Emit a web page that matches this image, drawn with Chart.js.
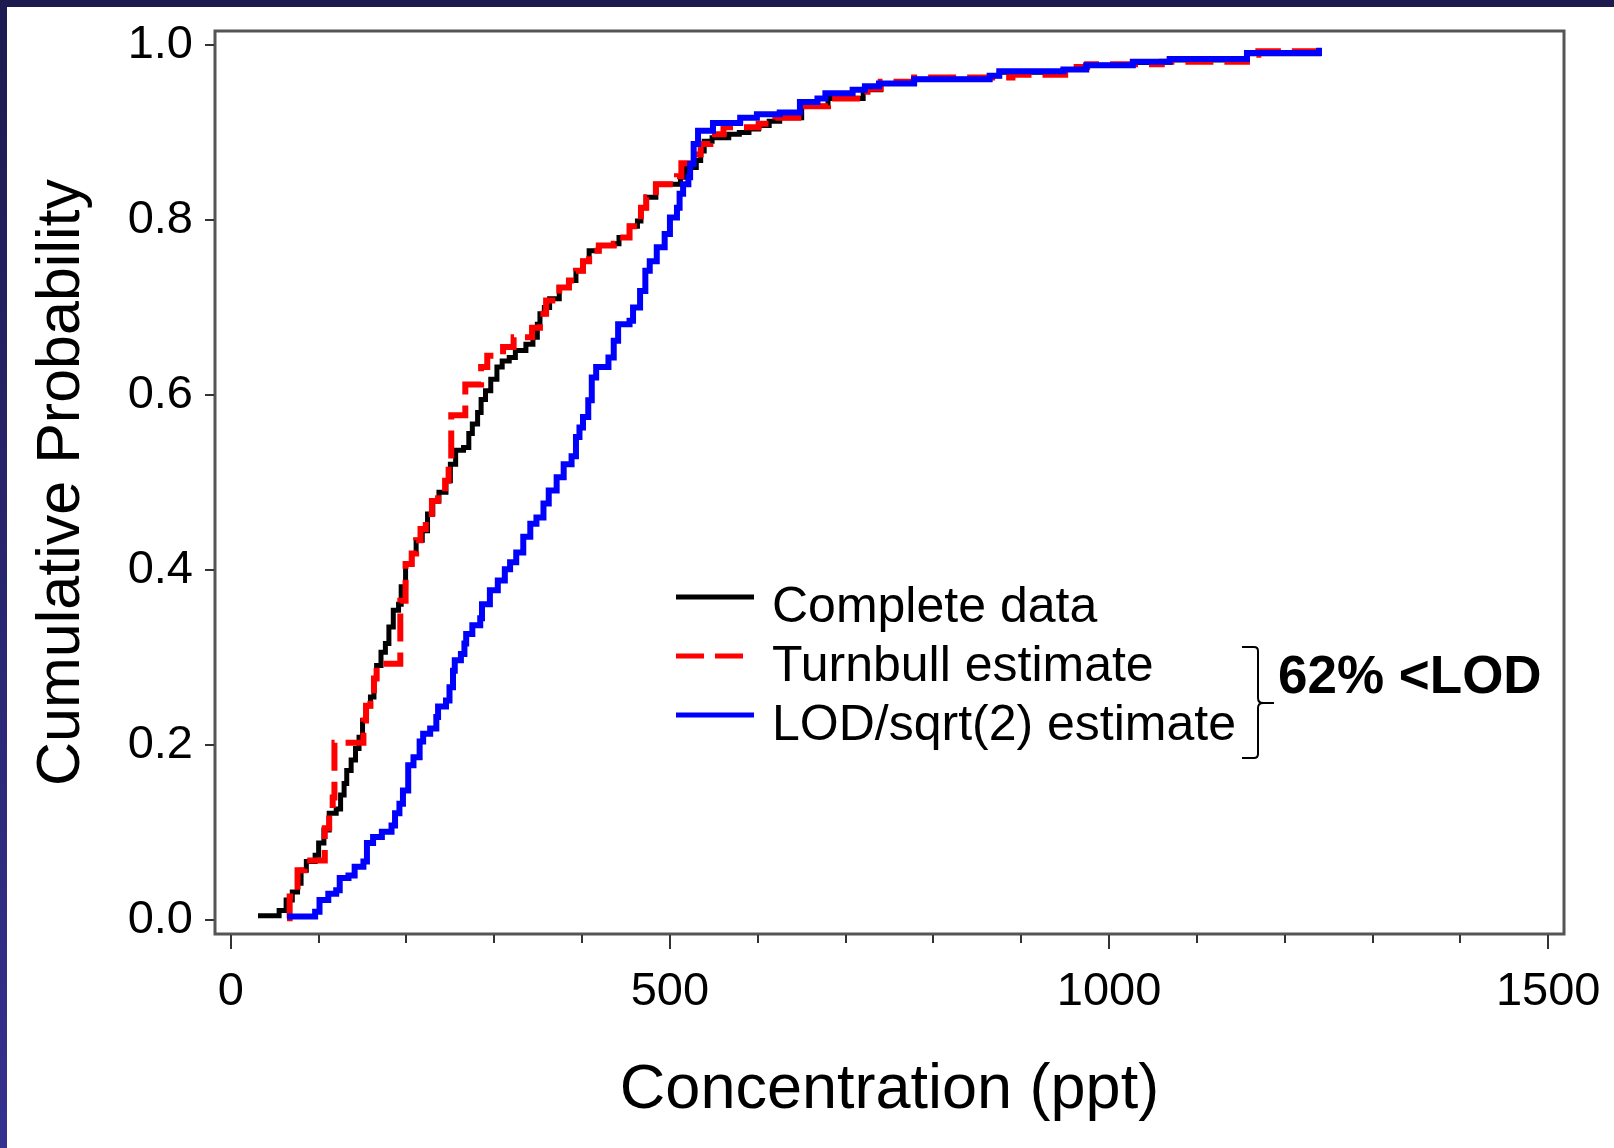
<!DOCTYPE html>
<html>
<head>
<meta charset="utf-8">
<title>Cumulative Probability</title>
<script src="https://cdn.jsdelivr.net/npm/chart.js@4.4.1/dist/chart.umd.min.js"></script>
<style>
  html, body { margin: 0; padding: 0; background: #fff; }
  #wrap { position: relative; width: 1614px; height: 1148px; background: #fff; overflow: hidden; }
  #wrap .bandTop { position: absolute; left: 0; top: 0; width: 1614px; height: 7px; background: #1c1a4f; }
  #wrap .bandLeft { position: absolute; left: 0; top: 0; width: 7px; height: 1148px; background: linear-gradient(#1c1a4f, #35318f); }
  #chart { position: absolute; left: 0; top: 0; }
</style>
</head>
<body>
<div id="wrap">
  <div class="bandTop"></div>
  <div class="bandLeft"></div>
  <canvas id="chart" width="1614" height="1148"></canvas>
</div>
<script>
// complete data (black)
var completeX = [31, 55, 63, 70, 76, 80, 86, 96, 100, 106, 112, 120, 125, 129, 132, 137, 142, 146, 150, 154,
  159, 163, 166, 171, 176, 180, 185, 191, 194, 199, 206, 211, 218, 224, 230, 237, 245, 250, 256, 265,
  271, 275, 281, 285, 290, 296, 303, 309, 317, 324, 336, 344, 349, 352, 357, 363, 374, 385, 393, 401,
  408, 419, 436, 442, 454, 463, 467, 473, 484, 512, 518, 530, 535, 539, 548, 567, 579, 590, 601, 613,
  625, 650, 680, 720, 740, 778, 864, 875, 948, 974, 1027, 1069, 1157, 1239];
var completeY = [0.005, 0.011, 0.023, 0.032, 0.042, 0.057, 0.067, 0.074, 0.088, 0.103, 0.122, 0.127, 0.143, 0.156, 0.171, 0.183, 0.196, 0.209, 0.228, 0.245,
  0.255, 0.276, 0.291, 0.306, 0.316, 0.335, 0.354, 0.361, 0.381, 0.407, 0.419, 0.434, 0.445, 0.464, 0.479, 0.489, 0.502, 0.521, 0.537, 0.540,
  0.556, 0.567, 0.580, 0.595, 0.605, 0.618, 0.632, 0.639, 0.643, 0.651, 0.658, 0.666, 0.681, 0.693, 0.700, 0.710, 0.723, 0.731, 0.742, 0.753,
  0.765, 0.771, 0.773, 0.780, 0.793, 0.799, 0.814, 0.826, 0.841, 0.849, 0.860, 0.868, 0.879, 0.890, 0.894, 0.898, 0.900, 0.904, 0.908, 0.913,
  0.917, 0.930, 0.939, 0.949, 0.956, 0.961, 0.965, 0.969, 0.972, 0.977, 0.980, 0.983, 0.990, 0.996];

// Turnbull estimate (red dashed)
var turnbullX = [64, 67, 76, 84, 107, 112, 116, 118, 151, 154, 159, 163, 166, 193, 199, 206, 211, 216, 222, 229,
  236, 244, 248, 251, 267, 285, 292, 310, 322, 343, 352, 359, 374, 385, 393, 401, 408, 419, 436, 442,
  454, 463, 467, 473, 484, 508, 513, 530, 535, 546, 561, 601, 620, 652, 680, 725, 740, 778, 890, 950,
  975, 1060, 1157, 1170, 1239];
var turnbullY = [0.002, 0.027, 0.057, 0.068, 0.105, 0.125, 0.140, 0.2025, 0.228, 0.245, 0.255, 0.276, 0.293, 0.365, 0.407, 0.419, 0.434, 0.447, 0.464, 0.479,
  0.489, 0.502, 0.521, 0.577, 0.612, 0.632, 0.645, 0.655, 0.666, 0.677, 0.693, 0.708, 0.723, 0.731, 0.742, 0.753, 0.765, 0.771, 0.773, 0.780,
  0.793, 0.799, 0.814, 0.826, 0.841, 0.850, 0.865, 0.875, 0.887, 0.898, 0.906, 0.910, 0.917, 0.930, 0.939, 0.950, 0.958, 0.963, 0.966, 0.975,
  0.978, 0.981, 0.989, 0.993, 0.997];

// LOD/sqrt(2) substitution (blue)
var lodX = [64, 96, 101, 111, 120, 124, 134, 141, 151, 155, 162, 172, 183, 187, 192, 196, 202, 208, 215, 219,
  227, 234, 236, 245, 249, 253, 255, 262, 266, 268, 275, 284, 286, 295, 304, 312, 318, 325, 333, 341,
  348, 356, 362, 371, 379, 388, 393, 397, 401, 407, 411, 416, 430, 436, 441, 454, 458, 466, 472, 477,
  485, 494, 500, 508, 511, 515, 521, 523, 527, 532, 549, 580, 599, 625, 648, 668, 677, 708, 722, 738,
  778, 864, 875, 948, 974, 1027, 1069, 1157, 1239];
var lodY = [0.004, 0.0095, 0.023, 0.030, 0.034, 0.048, 0.051, 0.061, 0.067, 0.088, 0.095, 0.101, 0.108, 0.122, 0.133, 0.148, 0.177, 0.186, 0.204, 0.213,
  0.219, 0.232, 0.244, 0.251, 0.266, 0.285, 0.297, 0.304, 0.316, 0.327, 0.337, 0.345, 0.361, 0.377, 0.388, 0.401, 0.409, 0.420, 0.438, 0.453,
  0.460, 0.476, 0.491, 0.506, 0.521, 0.530, 0.552, 0.563, 0.575, 0.594, 0.620, 0.632, 0.643, 0.662, 0.681, 0.685, 0.700, 0.719, 0.742, 0.753,
  0.769, 0.784, 0.803, 0.814, 0.830, 0.841, 0.849, 0.864, 0.887, 0.902, 0.911, 0.917, 0.921, 0.923, 0.935, 0.939, 0.945, 0.949, 0.953, 0.956,
  0.961, 0.965, 0.970, 0.972, 0.977, 0.981, 0.984, 0.991, 0.997];

var seriesLabels = ['Complete data', 'Turnbull estimate', 'LOD/sqrt(2) estimate'];
var xTicks = [0, 500, 1000, 1500];
var xMinorTicks = [100, 200, 300, 400, 600, 700, 800, 900, 1100, 1200, 1300, 1400];
var yTicks = [0, 0.2, 0.4, 0.6, 0.8, 1.0];
var noteText = '62% <LOD';

var FONT = "'Liberation Sans', Arial, Helvetica, sans-serif";
Chart.defaults.font.family = FONT;
Chart.defaults.color = '#000';

function toPoints(xs, ys) {
  var pts = [];
  for (var i = 0; i < xs.length; i++) pts.push({x: xs[i], y: ys[i]});
  return pts;
}

// frame box + tick marks, SAS style
var framePlugin = {
  id: 'frame',
  beforeDatasetsDraw: function(chart) {
    var ctx = chart.ctx, a = chart.chartArea;
    var xs = chart.scales.x, ys = chart.scales.y;
    ctx.save();
    ctx.strokeStyle = '#555';
    ctx.lineWidth = 3;
    ctx.strokeRect(a.left, a.top, a.right - a.left, a.bottom - a.top);
    ctx.strokeStyle = '#333';
    ctx.lineWidth = 2;
    ctx.beginPath();
    xTicks.forEach(function(v) {
      var px = Math.round(xs.getPixelForValue(v));
      ctx.moveTo(px, a.bottom + 1); ctx.lineTo(px, a.bottom + 15);
    });
    xMinorTicks.forEach(function(v) {
      var px = Math.round(xs.getPixelForValue(v));
      ctx.moveTo(px, a.bottom + 1); ctx.lineTo(px, a.bottom + 9);
    });
    yTicks.forEach(function(v) {
      var py = Math.round(ys.getPixelForValue(v));
      ctx.moveTo(a.left - 10, py); ctx.lineTo(a.left - 1, py);
    });
    ctx.stroke();
    ctx.restore();
  }
};

// legend inside the plot + brace note
var legendPlugin = {
  id: 'insideLegend',
  afterDraw: function(chart) {
    var ctx = chart.ctx;
    var sets = [chart.data.datasets[2], chart.data.datasets[1], chart.data.datasets[0]];
    ctx.save();
    ctx.font = '50px ' + FONT;
    ctx.textBaseline = 'alphabetic';
    ctx.fillStyle = '#000';
    for (var i = 0; i < sets.length; i++) {
      var ds = sets[i];
      var base = 622 + i * 59;
      var ly = base - 25;
      var dash = ds.borderDash || [];
      var len = dash.length ? dash[0] * 2 + dash[1] : 78;
      ctx.strokeStyle = ds.borderColor;
      ctx.lineWidth = 5;
      ctx.setLineDash(dash);
      ctx.beginPath();
      ctx.moveTo(676, ly); ctx.lineTo(676 + len, ly);
      ctx.stroke();
      ctx.setLineDash([]);
      ctx.fillText(ds.label, 772, base);
    }
    // brace
    ctx.strokeStyle = '#000';
    ctx.lineWidth = 2;
    ctx.beginPath();
    ctx.moveTo(1242, 647); ctx.lineTo(1254, 647);
    ctx.quadraticCurveTo(1258, 647, 1258, 651);
    ctx.lineTo(1258, 698);
    ctx.quadraticCurveTo(1258, 703, 1263, 703);
    ctx.lineTo(1274, 703);
    ctx.moveTo(1263, 703);
    ctx.quadraticCurveTo(1258, 703, 1258, 708);
    ctx.lineTo(1258, 754);
    ctx.quadraticCurveTo(1258, 758, 1254, 758);
    ctx.lineTo(1242, 758);
    ctx.stroke();
    ctx.font = 'bold 53px ' + FONT;
    ctx.fillText(noteText, 1278, 693);
    ctx.restore();
  }
};

new Chart(document.getElementById('chart'), {
  type: 'line',
  data: {
    datasets: [
      {label: seriesLabels[2], data: toPoints(lodX, lodY), borderColor: '#0000ff', borderWidth: 6, order: 1},
      {label: seriesLabels[1], data: toPoints(turnbullX, turnbullY), borderColor: '#ff0000', borderWidth: 6, borderDash: [28, 11], order: 2},
      {label: seriesLabels[0], data: toPoints(completeX, completeY), borderColor: '#000000', borderWidth: 5, order: 3}
    ]
  },
  options: {
    responsive: false,
    animation: false,
    layout: {padding: {left: 0, top: 31, right: 50, bottom: 0}},
    elements: {
      line: {stepped: true, tension: 0, fill: false},
      point: {radius: 0, hoverRadius: 0}
    },
    plugins: {legend: {display: false}, tooltip: {enabled: false}},
    scales: {
      x: {
        type: 'linear',
        min: -18,
        max: 1518,
        grid: {display: false, drawTicks: true, tickLength: 30},
        border: {display: false},
        ticks: {padding: 0, font: {size: 47}, color: '#000', maxRotation: 0, autoSkip: false,
          callback: function(v) { return String(v); }},
        afterBuildTicks: function(s) { s.ticks = xTicks.map(function(v) { return {value: v}; }); },
        afterFit: function(s) { s.height = 214; },
        title: {display: true, text: 'Concentration (ppt)', font: {size: 63}, color: '#000', padding: {top: 0, bottom: 20}}
      },
      y: {
        type: 'linear',
        min: -0.016,
        max: 1.016,
        grid: {display: false, drawTicks: true, tickLength: 22},
        border: {display: false},
        ticks: {padding: 0, font: {size: 47}, color: '#000', autoSkip: false,
          callback: function(v) { return v.toFixed(1); }},
        afterBuildTicks: function(s) { s.ticks = yTicks.map(function(v) { return {value: v}; }); },
        afterFit: function(s) { s.width = 215; },
        title: {display: true, text: 'Cumulative Probability', font: {size: 61}, color: '#000', padding: {top: 26, bottom: 0}}
      }
    }
  },
  plugins: [framePlugin, legendPlugin]
});
</script>
</body>
</html>
